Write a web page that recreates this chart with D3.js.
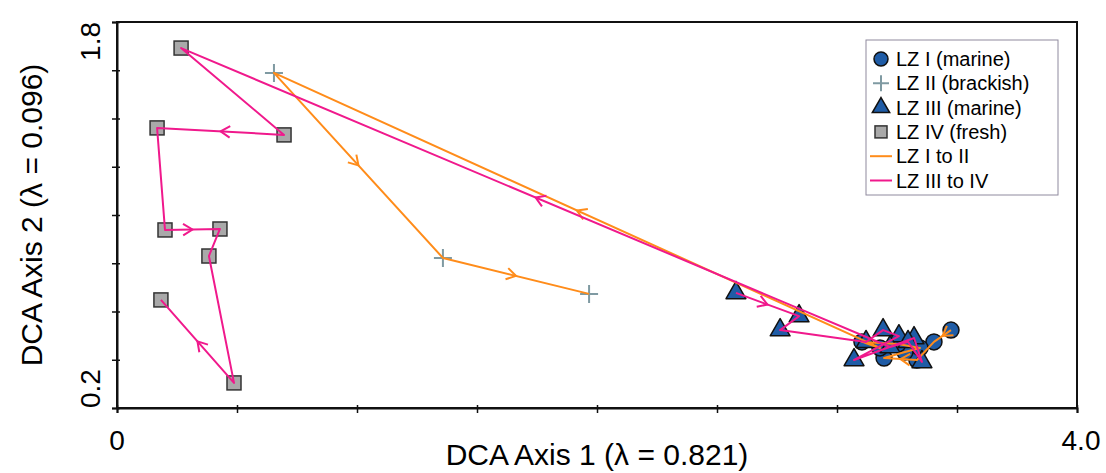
<!DOCTYPE html>
<html><head><meta charset="utf-8">
<script src="https://cdn.jsdelivr.net/npm/d3@7"></script>
<style>body{margin:0;background:#fff}svg{display:block}</style>
</head><body><svg id="c" width="1106" height="473"></svg>
<script>
// ---- data ----
const xDomain = [0, 4];
const yDomain = [0.2, 1.8];
const xTicks = [0, 0.5, 1, 1.5, 2, 2.5, 3, 3.5, 4];
const yTicks = [0.2, 0.4, 0.6, 0.8, 1.0, 1.2, 1.4, 1.6, 1.8];
const xLabelValues = [0, 4];
const xLabelTexts = ["0", "4.0"];
const yLabelValues = [0.2, 1.8];
const yLabelTexts = ["0.2", "1.8"];
const xTitle = "DCA Axis 1 (\u03bb = 0.821)";
const yTitle = "DCA Axis 2 (\u03bb = 0.096)";
const seriesNames = ["LZ I (marine)", "LZ II (brackish)", "LZ III (marine)", "LZ IV (fresh)", "LZ I to II", "LZ III to IV"];

// LZ I (marine) samples, in stratigraphic order
const lz1 = [[3.475,0.523],[3.404,0.474],[3.333,0.399],[3.196,0.407],[3.283,0.432],[3.346,0.449],[3.254,0.465],[3.104,0.474],[3.179,0.449]];
// LZ II (brackish)
const lz2 = [[0.654,1.589],[1.358,0.822],[1.967,0.673]];
// LZ III (marine)
const lz3 = [[2.579,0.677],[2.842,0.581],[2.763,0.523],[3.121,0.474],[3.192,0.523],[3.258,0.498],[3.071,0.399],[3.321,0.490],[3.354,0.391],[3.296,0.474],[3.221,0.453]];
// LZ IV (fresh)
const lz4 = [[0.267,1.692],[0.696,1.332],[0.167,1.361],[0.200,0.938],[0.429,0.942],[0.383,0.830],[0.4875,0.304],[0.183,0.648]];
// segments (index in path) that carry a direction arrow
const orangeArrowSegs = [0, 2, 8, 9, 10];
const pinkArrowSegs = [0, 10, 12, 14, 17];

// ---- drawing ----
const svg = d3.select("#c");
const L = 117, R = 1077, T = 22, B = 408;
const x = d3.scaleLinear().domain(xDomain).range([L, R]);
const y = d3.scaleLinear().domain(yDomain).range([B, T]);
const FONT = "'Liberation Sans', Arial, sans-serif";
const BLUE = "#1f5ca6", ORANGE = "#ff8c1a", PINK = "#f0198c", CROSS = "#7f9aa2", SQF = "#a9a9a9";

// frame
svg.append("rect").attr("x", L).attr("y", T).attr("width", R - L).attr("height", B - T)
  .attr("fill", "none").attr("stroke", "#111").attr("stroke-width", 2);

// axes
const xAxis = svg.append("g").attr("transform", `translate(0,${B})`)
  .call(d3.axisBottom(x).tickValues(xTicks).tickSize(5).tickFormat(""));
xAxis.select(".domain").attr("stroke", "#111").attr("stroke-width", 2);
xAxis.selectAll(".tick line").attr("y1", -3).attr("stroke", "#111").attr("stroke-width", 1.5);
const yAxis = svg.append("g").attr("transform", `translate(${L},0)`)
  .call(d3.axisLeft(y).tickValues(yTicks).tickSize(5).tickFormat(""));
yAxis.select(".domain").attr("stroke", "#111").attr("stroke-width", 2);
yAxis.selectAll(".tick line").attr("x1", 3).attr("stroke", "#111").attr("stroke-width", 1.5);

// tick labels
svg.selectAll(".xl").data(xLabelValues).enter().append("text")
  .attr("x", d => x(d) + (d === xDomain[1] ? 4 : 0)).attr("y", 450)
  .attr("text-anchor", "middle").attr("font-family", FONT).attr("font-size", 28)
  .text((d, i) => xLabelTexts[i]);
svg.selectAll(".yl").data(yLabelValues).enter().append("text")
  .attr("transform", d => `translate(100,${y(d)}) rotate(-90)`)
  .attr("text-anchor", d => d === yDomain[0] ? "start" : "end")
  .attr("font-family", FONT).attr("font-size", 28)
  .text((d, i) => yLabelTexts[i]);

// titles
svg.append("text").attr("x", (L + R) / 2).attr("y", 465).attr("text-anchor", "middle")
  .attr("font-family", FONT).attr("font-size", 30).text(xTitle);
svg.append("text").attr("transform", `translate(42,${(T + B) / 2}) rotate(-90)`).attr("text-anchor", "middle")
  .attr("font-family", FONT).attr("font-size", 30).text(yTitle);

// markers
const gM = svg.append("g");
gM.selectAll(".c1").data(lz1).enter().append("circle")
  .attr("cx", d => x(d[0])).attr("cy", d => y(d[1])).attr("r", 8)
  .attr("fill", BLUE).attr("stroke", "#111").attr("stroke-width", 1.5);
const crossPath = (cx, cy, s) => `M${cx - s},${cy}H${cx + s}M${cx},${cy - s}V${cy + s}`;
gM.selectAll(".c2").data(lz2).enter().append("path")
  .attr("d", d => crossPath(x(d[0]), y(d[1]), 9))
  .attr("stroke", CROSS).attr("stroke-width", 2).attr("fill", "none");
const tri = d3.symbol().type(d3.symbolTriangle).size(170);
gM.selectAll(".c3").data(lz3).enter().append("path")
  .attr("d", tri).attr("transform", d => `translate(${x(d[0])},${y(d[1])})`)
  .attr("fill", BLUE).attr("stroke", "#111").attr("stroke-width", 1.5).attr("stroke-linejoin", "round");
gM.selectAll(".c4").data(lz4).enter().append("rect")
  .attr("x", d => x(d[0]) - 7).attr("y", d => y(d[1]) - 7).attr("width", 14).attr("height", 14)
  .attr("fill", SQF).attr("stroke", "#333").attr("stroke-width", 1.5);

// trajectories
const line = d3.line().x(d => x(d[0])).y(d => y(d[1]));
function drawPath(pts, color, arrowSegs) {
  const g = svg.append("g");
  g.append("path").attr("d", line(pts)).attr("fill", "none").attr("stroke", color)
    .attr("stroke-width", 2).attr("stroke-linejoin", "round");
  arrowSegs.forEach(i => {
    const p = pts[i], q = pts[i + 1];
    const x1 = x(p[0]), y1 = y(p[1]), x2 = x(q[0]), y2 = y(q[1]);
    const mx = (x1 + x2) / 2, my = (y1 + y2) / 2;
    const a = Math.atan2(y2 - y1, x2 - x1);
    const len = 11, spread = 0.55;
    const ax = mx - len * Math.cos(a - spread), ay = my - len * Math.sin(a - spread);
    const bx = mx - len * Math.cos(a + spread), by = my - len * Math.sin(a + spread);
    g.append("path").attr("d", `M${ax},${ay}L${mx},${my}L${bx},${by}`)
      .attr("fill", "none").attr("stroke", color).attr("stroke-width", 2);
  });
}
drawPath(lz1.concat(lz2), ORANGE, orangeArrowSegs);
drawPath(lz3.concat(lz4), PINK, pinkArrowSegs);

// legend
const lg = svg.append("g");
lg.append("rect").attr("x", 866).attr("y", 40).attr("width", 192).attr("height", 155)
  .attr("fill", "#fff").attr("stroke", "#8f8a9e").attr("stroke-width", 1);
const rowY = i => 59 + i * 24.3;
const mx0 = 881;
seriesNames.forEach((name, i) => {
  const cy = rowY(i);
  if (i === 0) lg.append("circle").attr("cx", mx0).attr("cy", cy).attr("r", 7).attr("fill", BLUE).attr("stroke", "#111").attr("stroke-width", 1.5);
  if (i === 1) lg.append("path").attr("d", crossPath(mx0, cy, 8)).attr("stroke", CROSS).attr("stroke-width", 2);
  if (i === 2) lg.append("path").attr("d", d3.symbol().type(d3.symbolTriangle).size(130)).attr("transform", `translate(${mx0},${cy})`).attr("fill", BLUE).attr("stroke", "#111").attr("stroke-width", 1.5);
  if (i === 3) lg.append("rect").attr("x", mx0 - 6).attr("y", cy - 6).attr("width", 12).attr("height", 12).attr("fill", SQF).attr("stroke", "#333").attr("stroke-width", 1.5);
  if (i === 4) lg.append("line").attr("x1", mx0 - 11).attr("x2", mx0 + 11).attr("y1", cy).attr("y2", cy).attr("stroke", ORANGE).attr("stroke-width", 2);
  if (i === 5) lg.append("line").attr("x1", mx0 - 11).attr("x2", mx0 + 11).attr("y1", cy).attr("y2", cy).attr("stroke", PINK).attr("stroke-width", 2);
  lg.append("text").attr("x", 896).attr("y", cy + 7).attr("font-family", FONT).attr("font-size", 20).text(name);
});
</script></body></html>
